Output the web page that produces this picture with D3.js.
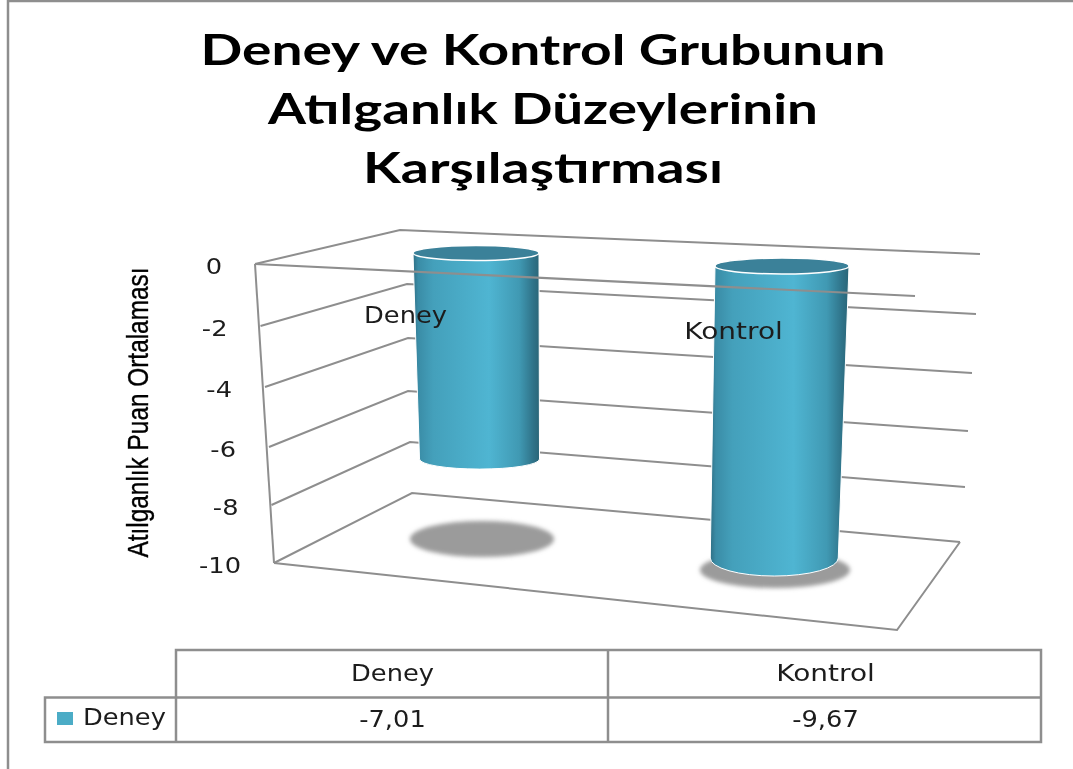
<!DOCTYPE html>
<html>
<head>
<meta charset="utf-8">
<script src="https://cdn.jsdelivr.net/npm/d3@7"></script>
<style>
  html, body { margin: 0; padding: 0; background: #fff; }
  svg { display: block; filter: blur(0.6px); }
  text { fill: #1c1c1c; }
</style>
</head>
<body>
<svg width="1073" height="769"></svg>
<script>
// the data
var titleLines = ["Deney ve Kontrol Grubunun", "Atılganlık Düzeylerinin", "Karşılaştırması"];
var yAxisTitle = "Atılganlık Puan Ortalaması";
var seriesName = "Deney";
var categories = ["Deney", "Kontrol"];
var values = [-7.01, -9.67];
var valueLabels = ["-7,01", "-9,67"];
var yTicks = [0, -2, -4, -6, -8, -10];

var svg = d3.select("svg"),
    width = +svg.attr("width"),
    height = +svg.attr("height");

var teal = "#4bacc6", gridColor = "#8e8e8e", shadowColor = "#9b9b9b";
var labelFont = "'DejaVu Sans', sans-serif";

//////////// SCALES ////////////

// each vertical edge of the 3d box gets its own scale, value -> pixel
function edge(xs, ys) {
  return {
    x: d3.scaleLinear().domain(yTicks).range(xs),
    y: d3.scaleLinear().domain(yTicks).range(ys)
  };
}
var frontLeft = edge([255, 260.5, 265, 269, 271.5, 274], [264, 326, 387, 447, 505, 563]),
    backLeft = edge([400, 407, 408, 408, 410, 412], [230, 284, 338, 391, 442, 493]),
    backRight = edge([980, 976, 972, 968, 965, 960], [254, 314, 373, 431, 487, 542]);

// cylinders stand in their own plane, one for each category
function plane(x0, y0, x1, y1) {
  return {
    x: d3.scaleLinear().domain([0, -10]).range([x0, x1]),
    y: d3.scaleLinear().domain([0, -10]).range([y0, y1])
  };
}
var planes = {
  Deney: { center: plane(476, 253, 481, 547), rx: [63, 60], ry: [7.5, 10], labelX: 405.5, labelY: 323, shadow: [482, 539, 72, 18] },
  Kontrol: { center: plane(782, 266, 774, 568), rx: [67, 64], ry: [8, 18], labelX: 733.5, labelY: 339, shadow: [775, 570, 75, 18] }
};

//////////// DEFS ////////////
var defs = svg.append("defs");

var grad = defs.append("linearGradient").attr("id", "side");
[[0, "#2f6f85"], [0.04, "#3a8ca6"], [0.16, "#44a0bb"], [0.6, "#4fb5d2"], [0.84, "#4099b3"], [0.95, "#2f7389"], [1, "#2a6577"]]
  .forEach(function(s) {
    grad.append("stop").attr("offset", s[0]).attr("stop-color", s[1]);
  });

defs.append("filter").attr("id", "soft").attr("x", "-10%").attr("y", "-30%").attr("width", "120%").attr("height", "160%")
  .append("feGaussianBlur").attr("stdDeviation", 2);

//////////// FRAME ////////////
svg.append("path")
    .attr("d", "M8,769V1H1073")
    .attr("fill", "none")
    .attr("stroke", gridColor)
    .attr("stroke-width", 2.5);

//////////// TITLE ////////////
var titleWidths = [685, 550, 360];

svg.append("g").attr("class", "title")
  .selectAll("text")
  .data(titleLines)
  .enter().append("text")
    .attr("x", 543)
    .attr("y", function(d, i) { return 65 + i * 59; })
    .attr("text-anchor", "middle")
    .attr("font-family", "Lato, sans-serif")
    .attr("font-weight", 700)
    .attr("font-size", 42)
    .attr("textLength", function(d, i) { return titleWidths[i]; })
    .attr("lengthAdjust", "spacingAndGlyphs")
    .style("fill", "#000")
    .text(function(d) { return d; });

//////////// BOX ////////////
var box = svg.append("g")
    .attr("fill", "none")
    .attr("stroke", gridColor)
    .attr("stroke-width", 2);

function pt(e, v) { return [e.x(v), e.y(v)]; }
var line = d3.line();

box.selectAll(".grid")
  .data(yTicks)
  .enter().append("path")
    .attr("class", "grid")
    .attr("d", function(d) { return line([pt(frontLeft, d), pt(backLeft, d), pt(backRight, d)]); });

box.append("path").attr("d", line([pt(frontLeft, 0), pt(frontLeft, -10)]));

// floor, the front corner is not on any wall edge
var floorFront = [897, 630];
box.append("path").attr("d", line([pt(frontLeft, -10), floorFront, pt(backRight, -10)]));

//////////// SHADOWS + CYLINDERS ////////////
var bars = categories.map(function(c, i) {
  return { name: c, value: values[i], plane: planes[c] };
});

var barG = svg.selectAll(".bar")
  .data(bars)
  .enter().append("g")
    .attr("class", "bar");

barG.append("ellipse")
    .attr("cx", function(d) { return d.plane.shadow[0]; })
    .attr("cy", function(d) { return d.plane.shadow[1]; })
    .attr("rx", function(d) { return d.plane.shadow[2]; })
    .attr("ry", function(d) { return d.plane.shadow[3]; })
    .attr("fill", shadowColor)
    .attr("filter", "url(#soft)");

// body outline, from top ellipse down to the bottom ellipse at the value
function bodyPath(d) {
  var p = d.plane;
  var tx = p.center.x(0), ty = p.center.y(0),
      bx = p.center.x(d.value), by = p.center.y(d.value),
      trx = p.rx[0], brx = p.rx[1], bry = p.ry[1];
  return "M" + (tx - trx) + "," + ty +
    "L" + (bx - brx) + "," + by +
    "A" + brx + "," + bry + " 0 0 0 " + (bx + brx) + "," + by +
    "L" + (tx + trx) + "," + ty + "Z";
}

barG.append("path")
    .attr("d", bodyPath)
    .attr("fill", "url(#side)")
    .attr("stroke", "#fff")
    .attr("stroke-width", 1);

barG.append("ellipse")
    .attr("cx", function(d) { return d.plane.center.x(0); })
    .attr("cy", function(d) { return d.plane.center.y(0); })
    .attr("rx", function(d) { return d.plane.rx[0]; })
    .attr("ry", function(d) { return d.plane.ry[0]; })
    .attr("fill", "#3b8199")
    .attr("stroke", "#fff")
    .attr("stroke-width", 1.5);

// zero line in front of everything
svg.append("path")
    .attr("d", line([pt(frontLeft, 0), [915, 296]]))
    .attr("fill", "none")
    .attr("stroke", gridColor)
    .attr("stroke-width", 2.2);

// the picture is stretched sideways, so all the labels go through here
// (Kontrol comes out a bit wider than the rest)
function label(sel, x, y, size) {
  return sel
      .attr("transform", function(d, i) {
        var wide = d === "Kontrol" || d.name === "Kontrol";
        return "translate(" + x(d, i) + "," + y(d, i) + ") scale(" + (wide ? 28 : 25.7) / size + ",1)";
      })
      .attr("font-family", labelFont)
      .attr("font-size", size);
}

label(barG.append("text"),
      function(d) { return d.plane.labelX; },
      function(d) { return d.plane.labelY; }, 23.5)
    .attr("text-anchor", "middle")
    .text(function(d) { return d.name; });

//////////// AXIS ////////////
label(svg.append("g").selectAll("text")
  .data(yTicks)
  .enter().append("text"),
      function(d) { return frontLeft.x(d) - 33; },
      function(d) { return frontLeft.y(d) + 9.5; }, 21.5)
    .attr("text-anchor", "end")
    .text(function(d) { return d; });

svg.append("text")
    .attr("transform", "translate(148,412.5) rotate(-90)")
    .attr("text-anchor", "middle")
    .attr("font-family", "'Liberation Sans Narrow', 'Liberation Sans', sans-serif")
    .attr("font-size", 30)
    .attr("textLength", 290)
    .attr("lengthAdjust", "spacingAndGlyphs")
    .attr("stroke", "#000")
    .attr("stroke-width", 0.35)
    .style("fill", "#000")
    .text(yAxisTitle);

//////////// DATA TABLE ////////////
var colEdges = [176, 608, 1041], colMid = [392.5, 825.5];
var tableTop = 650, rowMid = 697.5, tableBottom = 742, legendLeft = 45;

var table = svg.append("g")
    .attr("fill", "none")
    .attr("stroke", gridColor)
    .attr("stroke-width", 2.5);

table.append("path").attr("d", line([[colEdges[0], tableBottom], [colEdges[0], tableTop], [colEdges[2], tableTop], [colEdges[2], tableBottom], [legendLeft, tableBottom], [legendLeft, rowMid], [colEdges[2], rowMid]]));
table.append("path").attr("d", line([[colEdges[1], tableTop], [colEdges[1], tableBottom]]));

var tableText = svg.append("g");

label(tableText.selectAll(".head")
  .data(categories)
  .enter().append("text")
    .attr("class", "head"),
      function(d, i) { return colMid[i]; },
      function() { return 681; }, 23.5)
    .attr("text-anchor", "middle")
    .text(function(d) { return d; });

label(tableText.selectAll(".val")
  .data(valueLabels)
  .enter().append("text")
    .attr("class", "val"),
      function(d, i) { return colMid[i]; },
      function() { return 727; }, 23.5)
    .attr("text-anchor", "middle")
    .text(function(d) { return d; });

svg.append("rect")
    .attr("x", 57).attr("y", 712)
    .attr("width", 16).attr("height", 13)
    .attr("fill", teal);

label(tableText.append("text").datum(seriesName), function() { return 83; }, function() { return 725; }, 23.5)
    .text(function(d) { return d; });
</script>
</body>
</html>
